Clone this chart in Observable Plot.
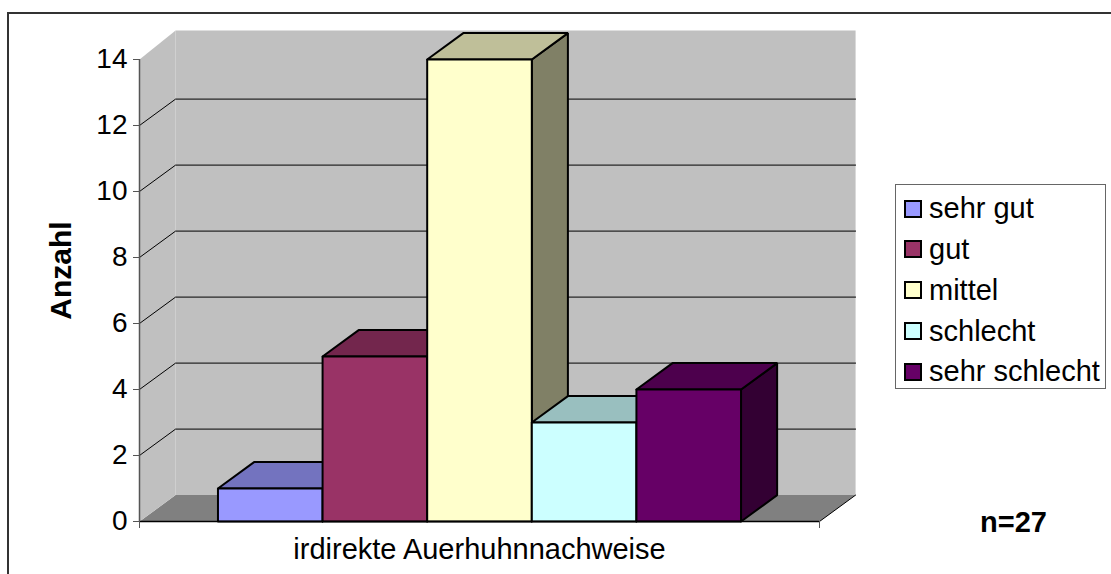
<!DOCTYPE html>
<html>
<head>
<meta charset="utf-8">
<script src="https://cdn.jsdelivr.net/npm/d3@7"></script>
<script src="https://cdn.jsdelivr.net/npm/@observablehq/plot@0.6"></script>
<style>
  html, body { margin: 0; padding: 0; background: #fff; }
  #wrap { position: relative; width: 1111px; height: 574px; overflow: hidden; font-family: "Liberation Sans", Arial, sans-serif; }
  #frameTop { position: absolute; left: 8px; top: 12px; width: 1103px; height: 0; border-top: 2px solid #333; }
  #frameLeft { position: absolute; left: 7px; top: 12px; width: 0; height: 562px; border-left: 2px solid #333; }
  #legend { position: absolute; left: 895px; top: 184px; width: 209px; height: 203px; border: 1px solid #666; background: #fff; box-sizing: content-box; }
  .item { position: absolute; left: 8px; height: 30px; display: flex; align-items: center; font-size: 29px; color: #000; white-space: nowrap; }
  .sw { width: 14px; height: 14px; border: 2px solid #000; margin-right: 7px; flex: none; }
</style>
</head>
<body>
<div id="wrap">
  <div id="chart"></div>
  <div id="frameTop"></div>
  <div id="frameLeft"></div>
  <div id="legend"></div>
</div>
<script>
// ---- data ----
const categories = ["sehr gut", "gut", "mittel", "schlecht", "sehr schlecht"];
const values = [1, 5, 14, 3, 4];
const colors = ["#9999FF", "#993366", "#FFFFCC", "#CCFFFF", "#660066"];
const yTicks = [0, 2, 4, 6, 8, 10, 12, 14];
const gridValues = [2, 4, 6, 8, 10, 12];
const groupLabel = "irdirekte Auerhuhnnachweise";
const yLabel = "Anzahl";
const nLabel = "n=27";

// ---- 3D geometry (in scale units) ----
const xMax = 6.5;          // floor width in bar units
const barStart = 0.75;     // gap before first bar
const depthX = 0.345;      // depth offset in x units
const depthY = 0.8;        // depth offset in y units
const wallTop = 14 + depthY + 0.08;

function shade(c, k) {
  const r = d3.rgb(c);
  return d3.rgb(r.r * k, r.g * k, r.b * k).formatHex();
}
function poly(pts) {
  const arr = pts.map(([x, y]) => ({x, y}));
  arr.push({...arr[0]});
  return arr;
}

const marks = [];
// floor
marks.push(Plot.line(poly([[0, 0], [xMax, 0], [xMax + depthX, depthY], [depthX, depthY]]), {x: "x", y: "y", fill: "#808080", stroke: "none"}));
// side wall
marks.push(Plot.line(poly([[0, 0], [depthX, depthY], [depthX, wallTop], [0, 14]]), {x: "x", y: "y", fill: "#C0C0C0", stroke: "none"}));
// back wall
marks.push(Plot.line(poly([[depthX, depthY], [xMax + depthX, depthY], [xMax + depthX, wallTop], [depthX, wallTop]]), {x: "x", y: "y", fill: "#C0C0C0", stroke: "none"}));
// floor right edge
marks.push(Plot.line([{x: xMax, y: 0}, {x: xMax + depthX, y: depthY}], {x: "x", y: "y", stroke: "#000", strokeWidth: 1}));
// gridlines on back wall and side wall
for (const v of gridValues) {
  marks.push(Plot.line([{x: 0, y: v}, {x: depthX, y: v + depthY}, {x: xMax + depthX, y: v + depthY}], {x: "x", y: "y", stroke: "#000", strokeWidth: 1}));
}
// bars
values.forEach((v, i) => {
  const x0 = barStart + i, x1 = barStart + i + 1;
  const c = colors[i];
  const st = {x: "x", y: "y", stroke: "#000", strokeWidth: 2, strokeLinejoin: "miter"};
  marks.push(Plot.line(poly([[x1, 0], [x1 + depthX, depthY], [x1 + depthX, v + depthY], [x1, v]]), {...st, fill: shade(c, 0.5)}));
  marks.push(Plot.line(poly([[x0, v], [x1, v], [x1 + depthX, v + depthY], [x0 + depthX, v + depthY]]), {...st, fill: shade(c, 0.75)}));
  marks.push(Plot.line(poly([[x0, 0], [x1, 0], [x1, v], [x0, v]]), {...st, fill: c}));
});
// category axis line
marks.push(Plot.ruleY([0], {x1: 0, x2: xMax, stroke: "#000", strokeWidth: 1.5}));
marks.push(Plot.axisX({ticks: [0, xMax], tickFormat: () => "", tickSize: 7, stroke: "#555", label: null}));
// value axis
marks.push(Plot.ruleX([0], {y1: 0, y2: 14, stroke: "#555", strokeWidth: 1.5}));
marks.push(Plot.axisY({ticks: yTicks, tickSize: 6, tickPadding: 6, fontSize: 28, stroke: "#555", fill: "#000", label: null}));
// labels
marks.push(Plot.text([groupLabel], {x: xMax / 2, frameAnchor: "bottom", dy: 37, fontSize: 29, fill: "#000", textAnchor: "middle", text: d => d}));
marks.push(Plot.text([yLabel], {frameAnchor: "left", rotate: -90, dx: -78, dy: -20, fontSize: 30, fontWeight: "bold", fill: "#000", textAnchor: "middle", text: d => d}));
marks.push(Plot.text([nLabel], {frameAnchor: "bottom-right", dx: 194, dy: 10, fontSize: 29, fontWeight: "bold", fill: "#000", textAnchor: "middle", text: d => d}));

const chart = Plot.plot({
  width: 1111,
  height: 574,
  marginLeft: 139,
  marginRight: 292,
  marginTop: 59,
  marginBottom: 53,
  style: {fontFamily: "'Liberation Sans', Arial, sans-serif", background: "transparent", overflow: "visible"},
  x: {domain: [0, xMax], axis: null},
  y: {domain: [0, 14], axis: null},
  marks
});
document.getElementById("chart").appendChild(chart);

// legend
const legend = document.getElementById("legend");
const rowCenters = [23.5, 64, 105, 146, 186.5];
categories.forEach((c, i) => {
  const item = document.createElement("div");
  item.className = "item";
  item.style.top = (rowCenters[i] - 15) + "px";
  const sw = document.createElement("div");
  sw.className = "sw";
  sw.style.background = colors[i];
  const t = document.createElement("span");
  t.textContent = c;
  item.appendChild(sw);
  item.appendChild(t);
  legend.appendChild(item);
});
</script>
</body>
</html>
